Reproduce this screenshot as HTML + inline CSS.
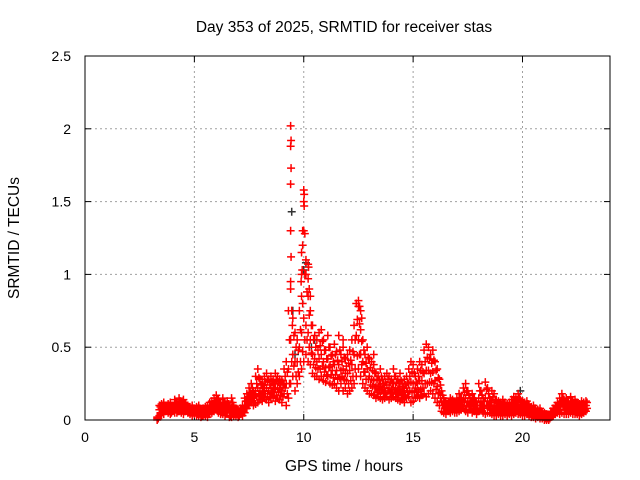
<!DOCTYPE html>
<html><head><meta charset="utf-8"><style>
html,body{margin:0;padding:0;background:#fff}
svg{display:block;font-family:"Liberation Sans",sans-serif}
</style></head><body>
<svg id="chart" width="640" height="480" viewBox="0 0 640 480">
<text x="344" y="32" text-anchor="middle" font-size="15.5">Day 353 of 2025, SRMTID for receiver stas</text>
<text x="344" y="471" text-anchor="middle" font-size="15.5">GPS time / hours</text>
<text transform="translate(19,238) rotate(-90)" text-anchor="middle" font-size="15.5">SRMTID / TECUs</text>
<g id="grid"></g><g id="ticks"></g><g id="marks"></g>
<rect x="85" y="56" width="525" height="364" fill="none" stroke="#000" stroke-width="1"/>
</svg>
<script>
const xTicks=[0,5,10,15,20];
const yTicks=[0,0.5,1,1.5,2,2.5];
const yTickLabels=["0","0.5","1","1.5","2","2.5"];
const tStart=3.3, tStep=0.1;
const lo=[0.0,0.03,0.05,0.04,0.06,0.05,0.04,0.06,0.05,0.05,
0.06,0.05,0.04,0.06,0.05,0.04,0.03,0.04,0.03,0.03,
0.02,0.03,0.03,0.02,0.04,0.05,0.06,0.07,0.05,0.04,
0.04,0.03,0.05,0.02,0.02,0.03,0.03,0.02,0.04,0.03,
0.05,0.08,0.10,0.12,0.10,0.11,0.12,0.14,0.13,0.15,
0.14,0.12,0.15,0.16,0.13,0.15,0.14,0.12,0.18,0.10,
0.15,0.25,0.30,0.20,0.25,0.30,0.35,0.40,0.45,0.40,
0.38,0.32,0.30,0.30,0.28,0.30,0.27,0.26,0.30,0.25,
0.24,0.25,0.22,0.20,0.25,0.20,0.22,0.18,0.20,0.22,
0.25,0.30,0.35,0.30,0.25,0.22,0.20,0.18,0.18,0.17,
0.15,0.16,0.15,0.14,0.15,0.16,0.14,0.15,0.16,0.15,
0.14,0.13,0.14,0.12,0.15,0.16,0.12,0.13,0.15,0.16,
0.15,0.17,0.18,0.16,0.18,0.20,0.18,0.15,0.12,0.10,
0.06,0.05,0.04,0.06,0.05,0.06,0.05,0.05,0.06,0.07,
0.08,0.06,0.05,0.07,0.05,0.06,0.04,0.06,0.07,0.05,
0.04,0.05,0.05,0.04,0.03,0.03,0.04,0.03,0.03,0.04,
0.03,0.04,0.03,0.04,0.05,0.04,0.04,0.03,0.03,0.04,
0.03,0.02,0.02,0.01,0.02,0.01,0.01,0.0,0.0,0.0,
0.02,0.03,0.04,0.05,0.04,0.05,0.04,0.04,0.04,0.05,
0.04,0.04,0.04,0.03,0.04,0.05,0.06];
const q1=[0.01,0.05,0.06,0.06,0.08,0.06,0.05,0.07,0.07,0.06,
0.08,0.07,0.06,0.07,0.06,0.05,0.05,0.05,0.04,0.05,
0.03,0.04,0.05,0.04,0.06,0.07,0.08,0.09,0.07,0.06,
0.06,0.05,0.07,0.03,0.05,0.04,0.04,0.03,0.05,0.05,
0.08,0.10,0.13,0.15,0.12,0.16,0.17,0.17,0.16,0.18,
0.18,0.16,0.19,0.19,0.17,0.19,0.17,0.16,0.22,0.18,
0.25,0.40,0.37,0.30,0.33,0.40,0.47,0.55,0.55,0.50,
0.46,0.38,0.36,0.35,0.35,0.37,0.33,0.31,0.36,0.31,
0.29,0.31,0.28,0.29,0.30,0.28,0.27,0.25,0.27,0.30,
0.35,0.44,0.45,0.38,0.33,0.28,0.28,0.24,0.23,0.22,
0.19,0.20,0.20,0.18,0.19,0.20,0.18,0.18,0.20,0.19,
0.18,0.17,0.17,0.16,0.19,0.20,0.19,0.19,0.19,0.20,
0.21,0.22,0.25,0.25,0.26,0.26,0.25,0.21,0.18,0.15,
0.10,0.08,0.07,0.08,0.08,0.08,0.07,0.08,0.09,0.09,
0.12,0.10,0.09,0.09,0.09,0.08,0.06,0.10,0.10,0.08,
0.10,0.09,0.08,0.08,0.07,0.06,0.06,0.05,0.06,0.06,
0.05,0.06,0.06,0.07,0.08,0.08,0.07,0.06,0.06,0.06,
0.05,0.04,0.04,0.03,0.03,0.03,0.02,0.01,0.01,0.01,
0.03,0.04,0.06,0.07,0.07,0.09,0.07,0.07,0.06,0.08,
0.06,0.07,0.06,0.05,0.06,0.07,0.08];
const mid=[0.01,0.07,0.08,0.08,0.09,0.08,0.07,0.09,0.09,0.08,
0.10,0.09,0.08,0.09,0.07,0.07,0.06,0.06,0.06,0.06,
0.05,0.05,0.06,0.06,0.08,0.09,0.10,0.11,0.09,0.08,
0.09,0.07,0.09,0.05,0.08,0.06,0.05,0.04,0.06,0.06,
0.10,0.13,0.16,0.18,0.15,0.20,0.22,0.20,0.19,0.22,
0.22,0.20,0.22,0.22,0.22,0.22,0.21,0.20,0.25,0.25,
0.35,0.55,0.45,0.40,0.40,0.50,0.60,0.70,0.65,0.60,
0.55,0.45,0.42,0.40,0.42,0.45,0.40,0.36,0.42,0.37,
0.34,0.38,0.34,0.38,0.34,0.35,0.32,0.32,0.34,0.38,
0.45,0.58,0.55,0.45,0.40,0.33,0.35,0.30,0.28,0.27,
0.23,0.23,0.24,0.21,0.22,0.24,0.22,0.21,0.25,0.22,
0.21,0.22,0.20,0.20,0.22,0.25,0.26,0.25,0.22,0.25,
0.27,0.27,0.32,0.34,0.34,0.32,0.33,0.27,0.23,0.19,
0.13,0.10,0.09,0.09,0.10,0.10,0.09,0.10,0.12,0.11,
0.15,0.15,0.13,0.11,0.12,0.10,0.08,0.15,0.13,0.10,
0.15,0.13,0.10,0.12,0.10,0.08,0.08,0.07,0.08,0.08,
0.07,0.08,0.08,0.10,0.10,0.11,0.09,0.08,0.08,0.08,
0.06,0.05,0.06,0.04,0.04,0.04,0.03,0.02,0.02,0.01,
0.04,0.05,0.07,0.08,0.10,0.12,0.09,0.10,0.08,0.10,
0.08,0.09,0.08,0.07,0.08,0.08,0.10];
const q3=[0.02,0.09,0.10,0.10,0.10,0.10,0.10,0.10,0.12,0.10,
0.13,0.11,0.11,0.10,0.09,0.08,0.08,0.07,0.08,0.08,
0.06,0.07,0.08,0.08,0.10,0.11,0.13,0.14,0.12,0.10,
0.12,0.10,0.11,0.07,0.12,0.08,0.07,0.06,0.07,0.08,
0.13,0.16,0.19,0.22,0.18,0.25,0.29,0.24,0.22,0.26,
0.27,0.24,0.26,0.25,0.27,0.26,0.25,0.24,0.30,0.33,
0.55,0.75,0.58,0.50,0.48,0.62,0.80,1.00,0.88,0.72,
0.65,0.55,0.50,0.48,0.51,0.54,0.48,0.42,0.50,0.44,
0.40,0.45,0.41,0.48,0.40,0.43,0.37,0.39,0.41,0.47,
0.55,0.69,0.66,0.54,0.48,0.39,0.43,0.36,0.34,0.33,
0.28,0.27,0.30,0.25,0.26,0.28,0.26,0.25,0.30,0.26,
0.25,0.27,0.23,0.24,0.26,0.30,0.33,0.32,0.26,0.30,
0.34,0.33,0.40,0.43,0.42,0.39,0.41,0.34,0.29,0.24,
0.17,0.13,0.11,0.11,0.13,0.12,0.11,0.13,0.15,0.13,
0.19,0.20,0.17,0.13,0.15,0.13,0.10,0.20,0.17,0.13,
0.21,0.18,0.13,0.16,0.14,0.11,0.11,0.10,0.11,0.10,
0.09,0.10,0.11,0.13,0.13,0.15,0.12,0.11,0.10,0.11,
0.08,0.07,0.08,0.06,0.06,0.06,0.04,0.04,0.03,0.02,
0.05,0.07,0.09,0.10,0.13,0.15,0.12,0.13,0.10,0.13,
0.11,0.12,0.10,0.09,0.11,0.10,0.12];
const hi=[0.02,0.10,0.11,0.12,0.10,0.11,0.12,0.10,0.14,0.12,
0.15,0.12,0.14,0.11,0.10,0.09,0.10,0.08,0.09,0.10,
0.07,0.08,0.09,0.10,0.12,0.13,0.15,0.17,0.14,0.12,
0.15,0.12,0.13,0.09,0.15,0.10,0.08,0.07,0.08,0.10,
0.15,0.18,0.22,0.25,0.20,0.30,0.35,0.28,0.25,0.30,
0.32,0.28,0.30,0.28,0.32,0.30,0.28,0.27,0.35,0.40,
0.75,0.95,0.70,0.60,0.55,0.75,1.00,1.30,1.10,0.85,
0.75,0.65,0.58,0.55,0.60,0.62,0.55,0.48,0.58,0.50,
0.45,0.52,0.47,0.58,0.45,0.50,0.42,0.45,0.48,0.55,
0.65,0.80,0.78,0.62,0.55,0.45,0.50,0.42,0.40,0.38,
0.32,0.30,0.35,0.28,0.30,0.32,0.30,0.28,0.35,0.30,
0.28,0.32,0.25,0.28,0.30,0.35,0.40,0.38,0.30,0.35,
0.40,0.38,0.48,0.52,0.50,0.45,0.48,0.40,0.35,0.28,
0.20,0.15,0.13,0.12,0.15,0.14,0.12,0.15,0.18,0.15,
0.22,0.25,0.20,0.15,0.18,0.15,0.12,0.25,0.20,0.15,
0.26,0.22,0.15,0.20,0.18,0.14,0.13,0.12,0.14,0.12,
0.11,0.12,0.14,0.16,0.15,0.18,0.14,0.13,0.12,0.13,
0.10,0.09,0.10,0.08,0.07,0.08,0.05,0.05,0.04,0.03,
0.06,0.08,0.10,0.12,0.15,0.18,0.14,0.15,0.12,0.16,
0.13,0.14,0.12,0.11,0.13,0.12,0.13];
const spikeT=[9.4,9.42,9.4,9.42,9.4,9.4,9.42,9.4,9.45,9.48,10.0,10.02,10.0,10.02,9.95,10.05,9.95,9.9,9.93,10.1,10.2,10.22,10.2,10.25,10.3,9.88,9.9,12.5,12.55,12.6,12.65,13.2,11.8];
const spikeV=[2.02,1.92,1.88,1.73,1.62,1.3,1.12,0.9,0.75,0.65,1.58,1.55,1.5,1.47,1.3,1.28,1.2,1.15,1.03,1.0,1.07,1.05,0.97,0.9,0.85,0.95,0.85,0.82,0.78,0.75,0.7,0.45,0.55];
const blackT=[9.45,10.0,10.1,9.5,19.9,10.35,9.6,10.5];
const blackV=[1.43,1.03,1.08,0.75,0.2,0.5,0.45,0.55];

const X0=85,X1=610,Y0=420,Y1=56;
const xs=v=>X0+(v/24)*(X1-X0);
const ys=v=>Y0-(v/2.5)*(Y0-Y1);
const NS="http://www.w3.org/2000/svg";
const grid=document.getElementById('grid'),ticks=document.getElementById('ticks'),marks=document.getElementById('marks');
function mk(tag,attrs,parent){const e=document.createElementNS(NS,tag);for(const k in attrs)e.setAttribute(k,attrs[k]);parent.appendChild(e);return e;}
xTicks.forEach(v=>{
  const x=xs(v);
  if(v>0){const g=mk('line',{x1:x,x2:x,y1:Y1,y2:Y0,stroke:'#a0a0a0','stroke-dasharray':'2,3'},grid);
  
  }
  const t=mk('line',{x1:x,x2:x,y1:Y0,y2:Y0-6,stroke:'#000'},ticks);
  
  
  const t2=mk('line',{x1:x,x2:x,y1:Y1,y2:Y1+6,stroke:'#000'},ticks);
  
  
  const l=mk('text',{x:x,y:442,'text-anchor':'middle','font-size':14},ticks);l.textContent=String(v);
  
  
});
yTicks.forEach((v,i)=>{
  const y=ys(v);
  if(v>0&&v<2.5){const g=mk('line',{x1:X0,x2:X1,y1:y,y2:y,stroke:'#a0a0a0','stroke-dasharray':'2,3'},grid);
  
  }
  const t=mk('line',{x1:X0,x2:X0+6,y1:y,y2:y,stroke:'#000'},ticks);
  
  
  const t2=mk('line',{x1:X1,x2:X1-6,y1:y,y2:y,stroke:'#000'},ticks);
  
  
  const l=mk('text',{x:71,y:y+5,'text-anchor':'end','font-size':14},ticks);l.textContent=yTickLabels[i];
  
  
});
function plus(t,v,color){
  const x=xs(t),y=ys(v);
  const p=mk('path',{d:`M${x-4},${y}H${x+4}M${x},${y-4}V${y+4}`,stroke:color,'stroke-width':1.5,fill:'none'},marks);
  
  
}
blackT.forEach((t,i)=>plus(t,blackV[i],'#333'));
[lo,mid,hi].forEach(arr=>arr.forEach((v,i)=>plus(tStart+i*tStep,v,'#ff0000')));
[q1,q3].forEach(arr=>arr.forEach((v,i)=>plus(tStart+i*tStep+0.05,v,'#ff0000')));
spikeT.forEach((t,i)=>plus(t,spikeV[i],'#ff0000'));
</script>
</body></html>
